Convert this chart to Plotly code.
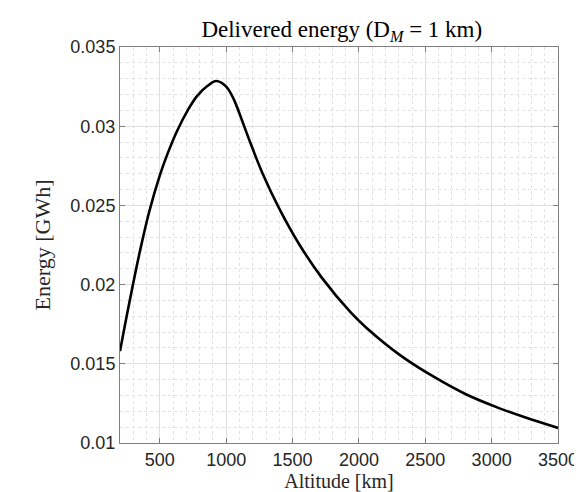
import plotly.graph_objects as go

altitude_km = [200, 250, 300, 350, 420, 500, 560, 630, 710, 780, 860, 925,
               1000, 1060, 1100, 1180, 1275, 1400, 1550, 1720, 1940, 2060,
               2310, 2560, 2810, 3050, 3250, 3500]
energy_gwh = [0.0158, 0.0180, 0.0201, 0.0221, 0.0246, 0.0269, 0.0283,
              0.0297, 0.0310, 0.0319, 0.03255, 0.03285, 0.0325, 0.03165,
              0.0308, 0.0290, 0.0270, 0.0248, 0.02255, 0.02044, 0.01823,
              0.01725, 0.01555, 0.0142, 0.01306, 0.01222, 0.01162, 0.01095]

x_ticks = [500, 1000, 1500, 2000, 2500, 3000, 3500]
y_ticks = [0.01, 0.015, 0.02, 0.025, 0.03, 0.035]
y_tick_text = ["0.01", "0.015", "0.02", "0.025", "0.03", "0.035"]

fig = go.Figure()
fig.add_trace(go.Scatter(
    x=altitude_km, y=energy_gwh, mode="lines",
    line=dict(color="black", width=2.6, shape="spline", smoothing=1.0),
    showlegend=False, hoverinfo="x+y"))

serif = "Liberation Serif, Times New Roman, serif"
sans = "Liberation Sans, Arial, Helvetica, sans-serif"

axis_common = dict(
    showline=True, linecolor="#7f7f7f", linewidth=1, mirror="ticks",
    ticks="inside", ticklen=5, tickcolor="#7f7f7f", tickwidth=1,
    showgrid=True, gridcolor="#dedede", gridwidth=1, zeroline=False,
    tickfont=dict(family=sans, size=18, color="#262626"),
)

fig.update_layout(
    width=582, height=492,
    paper_bgcolor="white", plot_bgcolor="white",
    margin=dict(l=112, r=25, t=39, b=57),
    title=dict(text="Delivered energy (D<sub><i>M</i></sub> = 1 km)",
               x=0.5735, xanchor="center", y=0.958, yanchor="middle",
               font=dict(family=serif, size=23, color="black")),
    xaxis=dict(range=[200, 3500], tickvals=x_ticks,
               title=dict(text="Altitude [km]", standoff=0,
                          font=dict(family=serif, size=20, color="#262626")),
               minor=dict(dtick=100, tick0=0, showgrid=True, gridcolor="#e2e2e2",
                          griddash="dot", ticks=""),
               **axis_common),
    yaxis=dict(range=[0.01, 0.035], tickvals=y_ticks, ticktext=y_tick_text,
               title=dict(text="Energy [GWh]", standoff=13,
                          font=dict(family=serif, size=22, color="#262626")),
               minor=dict(dtick=0.001, tick0=0, showgrid=True, gridcolor="#e2e2e2",
                          griddash="dot", ticks=""),
               **axis_common),
)

fig.write_html("out.html")
